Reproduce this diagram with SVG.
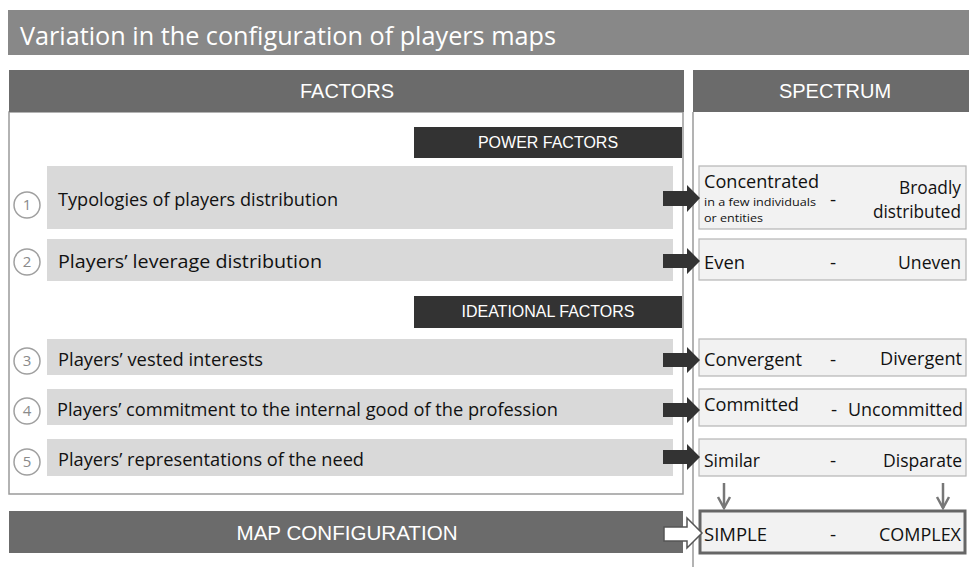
<svg xmlns="http://www.w3.org/2000/svg" width="969" height="567" viewBox="0 0 969 567">
<style>
.hdr{fill:#6b6b6b}
.hdrt{font-family:"Liberation Sans",Arial,sans-serif;font-size:20px;fill:#ffffff;text-anchor:middle}
.sect{fill:#333333}
.sectt{font-family:"Liberation Sans",Arial,sans-serif;font-size:16px;fill:#ffffff;text-anchor:middle}
.bar{fill:#d9d9d9}
.bart{font-family:"Open Sans",Lato,sans-serif;font-size:19px;fill:#111111}
.num{fill:#ffffff;stroke:#a0a0a0;stroke-width:1.5}
.numt{font-family:"Open Sans",Lato,sans-serif;font-size:15px;fill:#8a8a8a;text-anchor:middle}
.spec{fill:#f2f2f2;stroke:#b5b5b5;stroke-width:1.2}
.st{font-family:"Open Sans",Lato,sans-serif;font-size:19px;fill:#111111}
.sm{font-family:"Open Sans",Lato,sans-serif;font-size:11px;fill:#111111}
.r{text-anchor:end}
.d{text-anchor:middle}
.blk{fill:#333333}
.dn{fill:none;stroke:#777777;stroke-width:2.5}
</style>

<g id="title">
<rect x="8" y="10" width="961" height="45" fill="#888888"/>
<text x="20" y="45" font-family="'Open Sans',Lato,sans-serif" font-size="25" fill="#ffffff" textLength="536" lengthAdjust="spacingAndGlyphs">Variation in the configuration of players maps</text>
</g>

<g id="factors-panel">
<rect x="9" y="112" width="674" height="382" fill="#ffffff" stroke="#9a9a9a" stroke-width="1.5"/>
<rect class="hdr" x="9" y="70" width="675" height="42"/>
<text class="hdrt" x="347" y="98">FACTORS</text>
</g>

<g id="spectrum-panel">
<rect class="hdr" x="693" y="70" width="276" height="42"/>
<text class="hdrt" x="835" y="98">SPECTRUM</text>
<line x1="693" y1="112" x2="693" y2="567" stroke="#9a9a9a" stroke-width="1.5"/>
</g>

<g id="power-factors">
<rect class="sect" x="414" y="127" width="268" height="31"/>
<text class="sectt" x="548" y="148">POWER FACTORS</text>
</g>

<g id="ideational-factors">
<rect class="sect" x="414" y="296" width="268" height="32"/>
<text class="sectt" x="548" y="317">IDEATIONAL FACTORS</text>
</g>

<g id="factor-1">
<rect class="bar" x="47" y="166" width="626" height="63"/>
<circle class="num" cx="27" cy="205" r="13"/>
<text class="numt" x="27" y="210">1</text>
<text class="bart" x="58" y="206" textLength="280" lengthAdjust="spacingAndGlyphs">Typologies of players distribution</text>
</g>

<g id="factor-2">
<rect class="bar" x="47" y="239" width="626" height="42"/>
<circle class="num" cx="27" cy="262" r="13"/>
<text class="numt" x="27" y="267">2</text>
<text class="bart" x="58" y="268" textLength="264" lengthAdjust="spacingAndGlyphs">Players’ leverage distribution</text>
</g>

<g id="factor-3">
<rect class="bar" x="47" y="339" width="626" height="36"/>
<circle class="num" cx="27" cy="361" r="13"/>
<text class="numt" x="27" y="366">3</text>
<text class="bart" x="58" y="366" textLength="205" lengthAdjust="spacingAndGlyphs">Players’ vested interests</text>
</g>

<g id="factor-4">
<rect class="bar" x="47" y="389" width="626" height="36"/>
<circle class="num" cx="27" cy="411" r="13"/>
<text class="numt" x="27" y="416">4</text>
<text class="bart" x="57" y="416" textLength="501" lengthAdjust="spacingAndGlyphs">Players’ commitment to the internal good of the profession</text>
</g>

<g id="factor-5">
<rect class="bar" x="47" y="439" width="626" height="37"/>
<circle class="num" cx="27" cy="462" r="13"/>
<text class="numt" x="27" y="467">5</text>
<text class="bart" x="58" y="466" textLength="306" lengthAdjust="spacingAndGlyphs">Players’ representations of the need</text>
</g>

<g id="spectrum-1">
<rect class="spec" x="699" y="166" width="267" height="63"/>
<text class="st" x="704" y="188" textLength="115" lengthAdjust="spacingAndGlyphs">Concentrated</text>
<text class="sm" x="704" y="206" textLength="112" lengthAdjust="spacingAndGlyphs">in a few individuals</text>
<text class="sm" x="704" y="222" textLength="59" lengthAdjust="spacingAndGlyphs">or entities</text>
<text class="st d" x="833" y="206">-</text>
<text class="st r" x="961" y="194" textLength="62" lengthAdjust="spacingAndGlyphs">Broadly</text>
<text class="st r" x="961" y="218" textLength="88" lengthAdjust="spacingAndGlyphs">distributed</text>
</g>

<g id="spectrum-2">
<rect class="spec" x="699" y="239" width="267" height="41"/>
<text class="st" x="704" y="269" textLength="41" lengthAdjust="spacingAndGlyphs">Even</text>
<text class="st d" x="833" y="269">-</text>
<text class="st r" x="961" y="269" textLength="63" lengthAdjust="spacingAndGlyphs">Uneven</text>
</g>

<g id="spectrum-3">
<rect class="spec" x="699" y="339" width="267" height="37"/>
<text class="st" x="704" y="366" textLength="98" lengthAdjust="spacingAndGlyphs">Convergent</text>
<text class="st d" x="833" y="366">-</text>
<text class="st r" x="962" y="365" textLength="82" lengthAdjust="spacingAndGlyphs">Divergent</text>
</g>

<g id="spectrum-4">
<rect class="spec" x="699" y="389" width="267" height="37"/>
<text class="st" x="704" y="411" textLength="95" lengthAdjust="spacingAndGlyphs">Committed</text>
<text class="st d" x="834" y="416">-</text>
<text class="st r" x="963" y="416" textLength="115" lengthAdjust="spacingAndGlyphs">Uncommitted</text>
</g>

<g id="spectrum-5">
<rect class="spec" x="699" y="439" width="267" height="37"/>
<text class="st" x="704" y="467" textLength="56" lengthAdjust="spacingAndGlyphs">Similar</text>
<text class="st d" x="833" y="467">-</text>
<text class="st r" x="962" y="467" textLength="79" lengthAdjust="spacingAndGlyphs">Disparate</text>
</g>

<g id="map-configuration">
<rect class="hdr" x="9" y="511" width="674" height="42"/>
<text class="hdrt" x="347" y="540" textLength="221" lengthAdjust="spacingAndGlyphs">MAP CONFIGURATION</text>
</g>

<g id="simple-complex">
<rect x="700" y="511" width="265" height="42" fill="#f2f2f2" stroke="#666666" stroke-width="3"/>
<text class="st" x="704" y="541" textLength="63" lengthAdjust="spacingAndGlyphs">SIMPLE</text>
<text class="st d" x="833" y="541">-</text>
<text class="st r" x="961" y="541" textLength="82" lengthAdjust="spacingAndGlyphs">COMPLEX</text>
</g>

<g id="connectors">
<polygon class="blk" points="663,191 687,191 687,185 700,198 687,212 687,206 663,206"/>
<polygon class="blk" points="663,254 687,254 687,248 700,261 687,274 687,268 663,268"/>
<polygon class="blk" points="663,353 687,353 687,347 700,360 687,373 687,367 663,367"/>
<polygon class="blk" points="663,403 687,403 687,397 700,410 687,423 687,417 663,417"/>
<polygon class="blk" points="663,450 687,450 687,444 700,457 687,470 687,464 663,464"/>
<polygon points="664,527 687,527 687,518 702,533 687,548 687,541 664,541" fill="#ffffff" stroke="#555555" stroke-width="1.5"/>
<line class="dn" x1="724" y1="483" x2="724" y2="508"/>
<polyline class="dn" points="718,497 724,508 730,497"/>
<line class="dn" x1="943" y1="483" x2="943" y2="508"/>
<polyline class="dn" points="937,497 943,508 949,497"/>
</g>
</svg>
